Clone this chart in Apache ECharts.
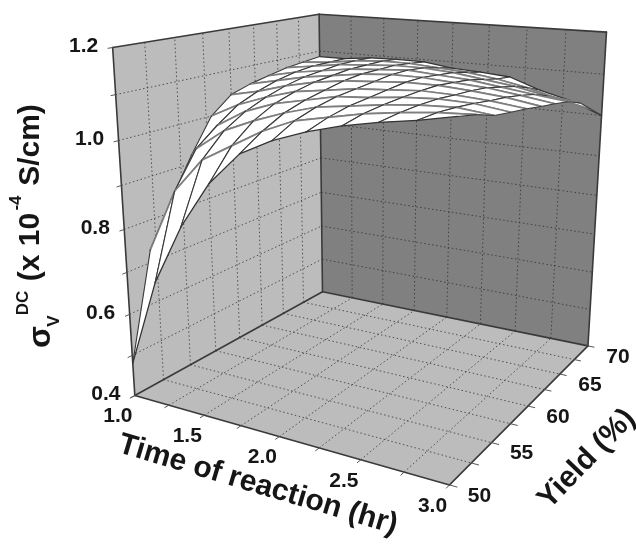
<!DOCTYPE html>
<html><head><meta charset="utf-8">
<style>html,body{margin:0;padding:0;background:#fff}#c{width:636px;height:545px}</style>
<script src="https://cdn.jsdelivr.net/npm/echarts@6/dist/echarts.min.js"></script>
</head><body><div id="c"></div>
<script>
// ---- data ----
const meshTimes = [1.0,1.2,1.4,1.6,1.8,2.0,2.2,2.4,2.6,2.8,3.0];
const meshYields = [50,52,54,56,58,60,62,64,66,68,70];
// rows: time of reaction; columns: yield
const conductivity = [
 [0.48,0.73,0.83,0.92,1.0,1.04,1.055,1.065,1.075,1.08,1.085],
 [0.69,0.88,0.96,1.0,1.035,1.055,1.07,1.08,1.085,1.085,1.085],
 [0.83,0.96,1.01,1.04,1.06,1.075,1.085,1.09,1.095,1.095,1.093],
 [0.936,1.0,1.04,1.065,1.08,1.09,1.095,1.10,1.10,1.10,1.095],
 [1.008,1.04,1.065,1.08,1.09,1.10,1.105,1.105,1.105,1.10,1.094],
 [1.044,1.07,1.085,1.095,1.10,1.105,1.11,1.11,1.105,1.095,1.084],
 [1.07,1.085,1.095,1.10,1.105,1.11,1.11,1.105,1.10,1.09,1.08],
 [1.09,1.10,1.105,1.108,1.11,1.11,1.105,1.10,1.09,1.08,1.074],
 [1.105,1.11,1.112,1.112,1.108,1.105,1.10,1.09,1.08,1.065,1.048],
 [1.117,1.118,1.115,1.11,1.103,1.098,1.09,1.08,1.065,1.045,1.029],
 [1.132,1.122,1.107,1.10,1.094,1.086,1.079,1.071,1.056,1.028,1.0]
];
const timeTicks = ['1.0','1.5','2.0','2.5','3.0'];
const yieldTicks = ['50','55','60','65','70'];
const sigmaTicks = ['0.4','0.6','0.8','1.0','1.2'];
const timeGrid = [1.25,1.5,1.75,2.0,2.25,2.5,2.75];
const yieldGrid = [52.5,55,57.5,60,62.5,65,67.5];
const sigmaGrid = [0.5,0.6,0.7,0.8,0.9,1.0,1.1];
const timeTitle = 'Time of reaction (hr)';
const yieldTitle = 'Yield (%)';
const T0=1,T1=3,Y0=50,Y1=70,Z0=0.4,Z1=1.2;

// ---- camera calibrated from the box corners ----
const calib = [
 [T0,Y0,Z0,135,395],[T0,Y1,Z0,322,292],[T1,Y1,Z0,588,346],[T1,Y0,Z0,450,485],
 [T0,Y0,Z1,112,48],[T0,Y1,Z1,320,14],[T1,Y1,Z1,606,32]
];
const norm=(t,y,z)=>[(t-T0)/(T1-T0),(y-Y0)/(Y1-Y0),(z-Z0)/(Z1-Z0)];
function solve(A,b){const n=b.length;const M=A.map((r,i)=>r.concat(b[i]));
 for(let i=0;i<n;i++){let p=i;for(let k=i+1;k<n;k++)if(Math.abs(M[k][i])>Math.abs(M[p][i]))p=k;
  [M[i],M[p]]=[M[p],M[i]];
  for(let k=0;k<n;k++){if(k===i)continue;const f=M[k][i]/M[i][i];for(let j=i;j<=n;j++)M[k][j]-=f*M[i][j];}}
 return M.map((r,i)=>r[n]/r[i]);}
const cam=(function(){const rows=[],rhs=[];
 calib.forEach(([t,y,z,px,py])=>{const [u,v,w]=norm(t,y,z);
  rows.push([u,v,w,1,0,0,0,0,-px*u,-px*v,-px*w]);rhs.push(px);
  rows.push([0,0,0,0,u,v,w,1,-py*u,-py*v,-py*w]);rhs.push(py);});
 const n=11,N=[],B=[];
 for(let i=0;i<n;i++){N.push([]);let s=0;for(let k=0;k<rows.length;k++)s+=rows[k][i]*rhs[k];B.push(s);
  for(let j=0;j<n;j++){let q=0;for(let k=0;k<rows.length;k++)q+=rows[k][i]*rows[k][j];N[i].push(q);}}
 return solve(N,B);})();
function project(t,y,z){const [u,v,w]=norm(t,y,z);const c=cam;
 const d=c[8]*u+c[9]*v+c[10]*w+1;
 return [(c[0]*u+c[1]*v+c[2]*w+c[3])/d,(c[4]*u+c[5]*v+c[6]*w+c[7])/d];}

// ---- marks ----
const panels=[
 {fill:'#bcbcbc',p:[[T0,Y0,Z0],[T0,Y1,Z0],[T0,Y1,Z1],[T0,Y0,Z1]]},
 {fill:'#808080',p:[[T0,Y1,Z0],[T1,Y1,Z0],[T1,Y1,Z1],[T0,Y1,Z1]]},
 {fill:'#bcbcbc',p:[[T0,Y0,Z0],[T1,Y0,Z0],[T1,Y1,Z0],[T0,Y1,Z0]]}
];
const gridSegs=[];
yieldGrid.forEach(y=>{gridSegs.push([[T0,y,Z0],[T0,y,Z1]]);gridSegs.push([[T0,y,Z0],[T1,y,Z0]]);});
timeGrid.forEach(t=>{gridSegs.push([[t,Y1,Z0],[t,Y1,Z1]]);gridSegs.push([[t,Y0,Z0],[t,Y1,Z0]]);});
sigmaGrid.forEach(z=>{gridSegs.push([[T0,Y0,z],[T0,Y1,z]]);gridSegs.push([[T0,Y1,z],[T1,Y1,z]]);});
const edgeSegs=[
 [[T0,Y0,Z0],[T1,Y0,Z0]],[[T1,Y0,Z0],[T1,Y1,Z0]],[[T0,Y0,Z0],[T0,Y1,Z0]],[[T0,Y1,Z0],[T1,Y1,Z0]],
 [[T0,Y0,Z0],[T0,Y0,Z1]],[[T0,Y1,Z0],[T0,Y1,Z1]],[[T1,Y1,Z0],[T1,Y1,Z1]],
 [[T0,Y0,Z1],[T0,Y1,Z1]],[[T0,Y1,Z1],[T1,Y1,Z1]]
];
const tickSegs=[];
[T0].concat(timeGrid,[T1]).forEach(t=>tickSegs.push([[t,Y0,Z0],[t,Y0-0.35,Z0]]));
[Y0].concat(yieldGrid,[Y1]).forEach(y=>tickSegs.push([[T1,y,Z0],[T1+0.04,y,Z0]]));
[Z0].concat(sigmaGrid,[Z1]).forEach(z=>tickSegs.push([[T0,Y0,z],[T0,Y0-0.35,z]]));
const cells=[];
for(let i=0;i<meshTimes.length-1;i++)for(let j=meshYields.length-2;j>=0;j--)cells.push([i,j]);

const pt=(api,q)=>api.coord(project(q[0],q[1],q[2]));
const labelFont='bold 21px "Liberation Sans",Arial,sans-serif';
const titleFont='bold 30px "Liberation Sans",Arial,sans-serif';
const smallFont='bold 17px "Liberation Sans",Arial,sans-serif';
const ink='#161616';
function txt(api,text,x,y,font,rot){const c=api.coord([x,y]);
 return {type:'text',x:c[0],y:c[1],rotation:(rot||0)*Math.PI/180,
  style:{text,font,fill:ink,align:'center',verticalAlign:'middle'}};}
function seg(a,b,stroke,lineWidth){return {type:'line',shape:{x1:a[0],y1:a[1],x2:b[0],y2:b[1]},style:{stroke,lineWidth,lineCap:'round'}};}

const tickLabels=[];
timeTicks.forEach(s=>tickLabels.push({s,a:[+s,Y0,Z0],dx:-17,dy:21}));
yieldTicks.forEach(s=>tickLabels.push({s,a:[T1,+s,Z0],dx:30,dy:11}));
sigmaTicks.forEach(s=>tickLabels.push({s,a:[T0,Y0,+s],dx:-29,dy:-1}));

const titles=[
 {s:timeTitle,x:258,y:485,f:titleFont,r:-16.5},
 {s:yieldTitle,x:587,y:459,f:titleFont,r:46},
 {s:'σ',x:41,y:337,f:'bold 32px "Liberation Sans",Arial,sans-serif',r:90},
 {s:'V',x:54,y:321,f:smallFont,r:90},
 {s:'DC',x:23,y:303,f:smallFont,r:90},
 {s:'(x 10',x:31,y:247,f:titleFont,r:90},
 {s:'-4',x:16,y:203,f:smallFont,r:90},
 {s:'S/cm)',x:31,y:145,f:titleFont,r:90}
];

const idx=a=>a.map((_,i)=>i);
const base={type:'custom',coordinateSystem:'cartesian2d',silent:true,animation:false,clip:false};
const option={
 animation:false,
 grid:{left:0,right:0,top:0,bottom:0},
 xAxis:{type:'value',min:0,max:636,show:false},
 yAxis:{type:'value',min:0,max:545,inverse:true,show:false},
 series:[
  {...base,name:'walls',z:1,data:idx(panels),renderItem:(p,api)=>{const m=panels[p.dataIndex];
    return {type:'polygon',shape:{points:m.p.map(q=>pt(api,q))},style:{fill:m.fill}};}},
  {...base,name:'gridlines',z:2,data:idx(gridSegs),renderItem:(p,api)=>{const s=gridSegs[p.dataIndex];
    const a=pt(api,s[0]),b=pt(api,s[1]);
    return {type:'line',shape:{x1:a[0],y1:a[1],x2:b[0],y2:b[1]},
     style:{stroke:'#2c2c2c',lineWidth:1,lineDash:[1.5,2.5],opacity:0.75}};}},
  {...base,name:'edges',z:3,data:idx(edgeSegs),renderItem:(p,api)=>{const s=edgeSegs[p.dataIndex];
    return seg(pt(api,s[0]),pt(api,s[1]),'#3a3a3a',1.6);}},
  {...base,name:'ticks',z:3,data:idx(tickSegs),renderItem:(p,api)=>{const s=tickSegs[p.dataIndex];
    return seg(pt(api,s[0]),pt(api,s[1]),'#555555',1);}},
  {...base,name:'surface',z:4,data:idx(cells),renderItem:(p,api)=>{const [i,j]=cells[p.dataIndex];
    const q=(a,b)=>pt(api,[meshTimes[a],meshYields[b],conductivity[a][b]]);
    const a=q(i,j),b=q(i+1,j),c=q(i+1,j+1),d=q(i,j+1);
    const yLine=(u,v,k)=>seg(u,v,k===0||k===meshYields.length-1?'#333333':'#7e7e7e',k===0||k===meshYields.length-1?1.3:1.7);
    const tLine=(u,v)=>seg(u,v,'#3a3a3a',1.1);
    return {type:'group',children:[
     {type:'polygon',shape:{points:[a,b,c,d]},style:{fill:'#ffffff'}},
     yLine(a,b,j),yLine(d,c,j+1),tLine(b,c),tLine(a,d)
    ]};}},
  {...base,name:'tick labels',z:5,data:idx(tickLabels),renderItem:(p,api)=>{const l=tickLabels[p.dataIndex];
    const w=project(l.a[0],l.a[1],l.a[2]);return txt(api,l.s,w[0]+l.dx,w[1]+l.dy,labelFont,0);}},
  {...base,name:'titles',z:5,data:idx(titles),renderItem:(p,api)=>{const l=titles[p.dataIndex];
    return txt(api,l.s,l.x,l.y,l.f,l.r);}}
 ]
};
echarts.init(document.getElementById('c'),null,{renderer:'canvas'}).setOption(option);
</script></body></html>
